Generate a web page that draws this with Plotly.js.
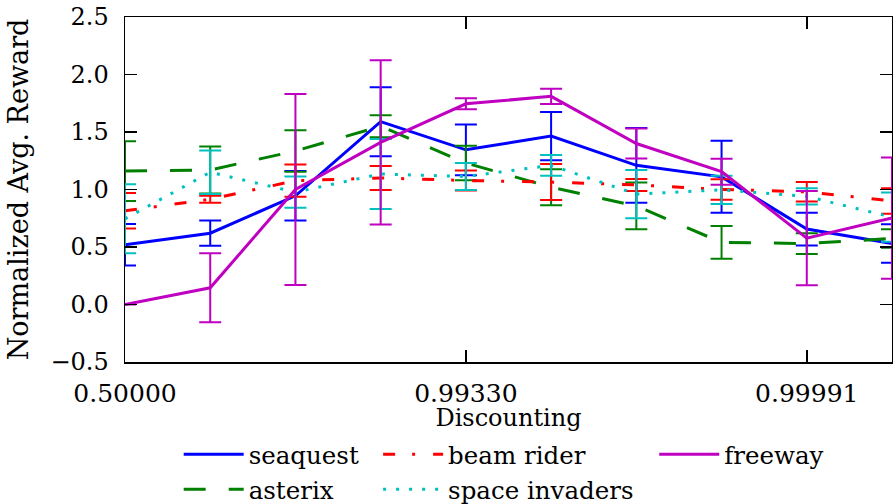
<!DOCTYPE html>
<html>
<head>
<meta charset="utf-8">
<script src="https://cdn.plot.ly/plotly-3.0.1.min.js"></script>
<style>
  html, body { margin: 0; padding: 0; background: #fff; }
  #chart { width: 893px; height: 504px; }
</style>
</head>
<body>
<div id="chart"></div>
<script>
// x positions (index of discount setting)
const xIndex = [0, 1, 2, 3, 4, 5, 6, 7, 8, 9];
const tickPositions = [0, 4, 8];
const tickLabels = ['0.50000', '0.99330', '0.99991'];

const seaquestY   = [0.52, 0.62, 0.945, 1.59, 1.345, 1.465, 1.21, 1.11, 0.656, 0.53];
const seaquestErr = [0.18, 0.11, 0.215, 0.30, 0.22, 0.21, 0.325, 0.313, 0.142, 0.168];

const asterixY   = [1.16, 1.17, 1.335, 1.55, 1.23, 1.02, 0.857, 0.54, 0.53, 0.574];
const asterixErr = [0.26, 0.205, 0.18, 0.095, 0.15, 0.157, 0.203, 0.143, 0.09, 0.08];

const beamRiderY   = [0.815, 0.915, 1.077, 1.10, 1.078, 1.065, 1.04, 1.0, 0.98, 0.90];
const beamRiderErr = [0.155, 0.03, 0.14, 0.105, 0.087, 0.157, 0.052, 0.09, 0.085, 0.11];

const spaceInvY   = [0.745, 1.15, 0.977, 1.135, 1.113, 1.21, 0.96, 0.997, 0.94, 0.76];
const spaceInvErr = [0.30, 0.19, 0.135, 0.305, 0.117, 0.09, 0.21, 0.123, 0.07, 0.214];

const freewayY   = [0.0, 0.145, 1.0, 1.41, 1.745, 1.81, 1.40, 1.155, 0.577, 0.752];
const freewayErr = [0.0, 0.30, 0.83, 0.715, 0.048, 0.067, 0.13, 0.113, 0.41, 0.527];

const FONT = 'DejaVu Serif';

function series(name, y, err, color, dash, legend, rank) {
  return {
    type: 'scatter', mode: 'lines', name: name,
    x: xIndex, y: y,
    line: { color: color, width: 3, dash: dash },
    error_y: { type: 'data', array: err, symmetric: true, visible: true,
               color: color, thickness: 2, width: 11 },
    legend: legend, legendrank: rank,
    hoverinfo: 'skip'
  };
}

const traces = [
  series('seaquest', seaquestY, seaquestErr, '#0000ff', 'solid', 'legend', 1),
  series('asterix', asterixY, asterixErr, '#008000', '22px,23px', 'legend', 2),
  series('beam rider', beamRiderY, beamRiderErr, '#ff0000', '12px,17px,3px,18px', 'legend2', 1),
  series('space invaders', spaceInvY, spaceInvErr, '#00c0c0', '3px,10px', 'legend2', 2),
  series('freeway', freewayY, freewayErr, '#c000c0', 'solid', 'legend3', 1)
];

const legendCommon = {
  orientation: 'v', xanchor: 'left', yanchor: 'top',
  yref: 'container', y: 0.143,
  font: { family: FONT, size: 24.5, color: '#000' },
  bgcolor: 'rgba(0,0,0,0)', borderwidth: 0, itemwidth: 60,
  tracegroupgap: 0
};

const layout = {
  width: 893, height: 504,
  margin: { l: 125, r: 1, t: 17, b: 142, autoexpand: false },
  paper_bgcolor: '#fff', plot_bgcolor: '#fff',
  font: { family: FONT, size: 23, color: '#000' },
  showlegend: true,
  legend:  Object.assign({}, legendCommon, { x: 0.07 }),
  legend2: Object.assign({}, legendCommon, { x: 0.33 }),
  legend3: Object.assign({}, legendCommon, { x: 0.69 }),
  xaxis: {
    range: [0, 9], tickmode: 'array', tickvals: tickPositions, ticktext: tickLabels,
    showgrid: false, zeroline: false, showline: true, linecolor: '#000', linewidth: 1.5,
    mirror: 'ticks', ticks: 'inside', ticklen: 12, tickwidth: 1.5, tickcolor: '#000',
    tickfont: { family: FONT, size: 25 },
    ticklabelstandoff: 8,
    title: { text: 'Discounting', font: { family: FONT, size: 24 }, standoff: 16 }
  },
  yaxis: {
    range: [-0.5, 2.5], dtick: 0.5, tick0: 0, tickformat: '.1f',
    showgrid: false, zeroline: false, showline: true, linecolor: '#000', linewidth: 1.5,
    mirror: 'ticks', ticks: 'inside', ticklen: 12, tickwidth: 1.5, tickcolor: '#000',
    tickfont: { family: FONT, size: 24 },
    ticklabelstandoff: 10,
    title: { text: 'Normalized Avg. Reward', font: { family: FONT, size: 27 }, standoff: 14 }
  }
};

Plotly.newPlot('chart', traces, layout, { displayModeBar: false, staticPlot: true });
</script>
</body>
</html>
